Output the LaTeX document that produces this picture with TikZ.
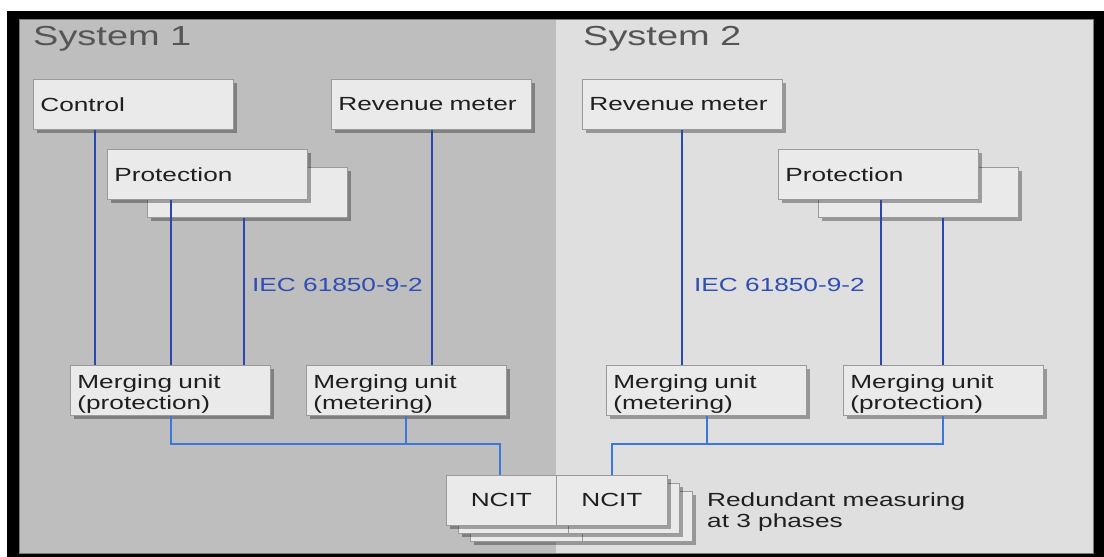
\documentclass[tikz,border=0pt]{standalone}
\usepackage{fontspec}
\setmainfont{Liberation Sans}[FakeStretch=1.38]
\usetikzlibrary{shadows,calc}

\definecolor{paneldark}{HTML}{BEBEBE}
\definecolor{panellight}{HTML}{DFDFDF}
\definecolor{paneledge}{HTML}{7A7A7A}
\definecolor{boxfill}{HTML}{EAEAEA}
\definecolor{boxedge}{HTML}{9A9A9A}
\definecolor{titlegray}{HTML}{555555}
\definecolor{linkdark}{HTML}{2A47AE}
\definecolor{linkbright}{HTML}{3A78DC}
\definecolor{labelblue}{HTML}{2E4DB5}

\tikzset{
  boxshadow/.style={drop shadow={shadow xshift=3.5pt,shadow yshift=-3.5pt,fill=black,opacity=0.32}},
  unitbox/.style={draw=boxedge, line width=0.8pt, fill=boxfill, boxshadow,
    anchor=north west, minimum height=50pt, text width=186pt, inner xsep=7pt,
    inner ysep=0pt, align=left, font=\fontsize{19}{21}\selectfont, text=black!88},
  twoline/.style={text depth=18pt},
  ncitbox/.style={draw=boxedge, line width=0.8pt, fill=boxfill, boxshadow,
    anchor=north west, minimum height=50pt, minimum width=#1, inner sep=0pt,
    font=\fontsize{19}{21}\selectfont, text=black!88},
  ncitbox/.default=110pt,
  systitle/.style={anchor=base west, inner sep=0pt, text=titlegray,
    font=\fontsize{27.5}{32}\selectfont},
  stdlabel/.style={anchor=base west, inner sep=0pt, text=labelblue,
    font=\fontsize{19}{21}\selectfont},
  uplink/.style={draw=linkdark, line width=1.8pt},
  buslink/.style={draw=linkbright, line width=2.2pt, line join=miter}
}

\begin{document}
\begin{tikzpicture}[x=1pt,y=-1pt]
  \useasboundingbox (0,0) rectangle (1104,557);
  \fill[white] (0,0) rectangle (1104,557);
  \fill[black] (7,11) rectangle (1104,557);

  % the two system areas
  \fill[paneldark] (19,19) rectangle (556,553);
  \fill[panellight] (556,19) rectangle (1093,553);
  \draw[paneledge, line width=0.8pt] (19,19) rectangle (1093,553);

  \node[systitle] (t1) at (33,45) {System 1};
  \node[systitle] (t2) at (583,45) {System 2};

  % System 1 devices
  \node[unitbox] (ctrl) at (33,79) {Control};
  \node[unitbox] (prot1b) at (147,167) {};
  \node[unitbox] (prot1) at (107,149) {Protection};
  \node[unitbox] (rev1) at (331,79) {Revenue meter};
  \node[unitbox, twoline] (mup1) at (70,365) {Merging unit\\(protection)};
  \node[unitbox, twoline] (mum1) at (306,365) {Merging unit\\(metering)};

  % System 2 devices
  \node[unitbox] (rev2) at (582,79) {Revenue meter};
  \node[unitbox] (prot2b) at (818,167) {};
  \node[unitbox] (prot2) at (778,149) {Protection};
  \node[unitbox, twoline] (mum2) at (606,365) {Merging unit\\(metering)};
  \node[unitbox, twoline] (mup2) at (843,365) {Merging unit\\(protection)};

  % process bus labels
  \node[stdlabel] (iec1) at (252,291) {IEC 61850-9-2};
  \node[stdlabel] (iec2) at (694,291) {IEC 61850-9-2};

  % NCIT stacks, one per phase
  \node[ncitbox=112pt] (n3a) at (470,491) {};
  \node[ncitbox=110pt] (n3b) at (582,491) {};
  \node[ncitbox=110pt] (n2a) at (458,483) {};
  \node[ncitbox=111pt] (n2b) at (568,483) {};
  \node[ncitbox=110pt] (ncitA) at (446,475) {NCIT};
  \node[ncitbox=111pt] (ncitB) at (556,475) {NCIT};

  \node[anchor=north west, inner sep=0pt, align=left, text=black!88,
        font=\fontsize{19}{20.5}\selectfont] (redund) at (707,493)
        {Redundant measuring\\at 3 phases};

  % sampled-value links from the merging units
  \draw[uplink] (ctrl.south -| 95,0) -- (mup1.north -| 95,0);
  \draw[uplink] (prot1.south -| 171,0) -- (mup1.north -| 171,0);
  \draw[uplink] (prot1b.south -| 244,0) -- (mup1.north -| 244,0);
  \draw[uplink] (rev1.south -| 432,0) -- (mum1.north -| 432,0);
  \draw[uplink] (rev2.south -| 682,0) -- (mum2.north -| 682,0);
  \draw[uplink] (prot2.south -| 881,0) -- (mup2.north -| 881,0);
  \draw[uplink] (prot2b.south -| 943,0) -- (mup2.north -| 943,0);

  % links from the NCITs to the merging units
  \draw[buslink] (mup1.south -| 171,0) |- (500,444) -- (ncitA.north -| 500,0);
  \draw[buslink] (mum1.south -| 406,0) -- (406,444);
  \draw[buslink] (ncitB.north -| 612,0) |- (943,444) -- (mup2.south -| 943,0);
  \draw[buslink] (mum2.south -| 707,0) -- (707,444);
\end{tikzpicture}
\end{document}
